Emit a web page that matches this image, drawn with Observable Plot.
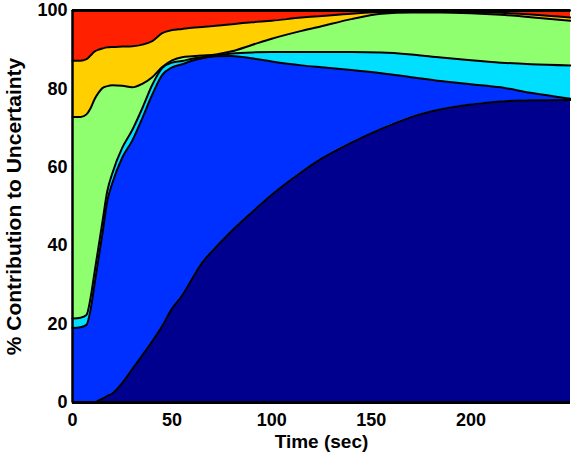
<!DOCTYPE html>
<html><head><meta charset="utf-8">
<script src="https://cdn.jsdelivr.net/npm/d3@7"></script>
<script src="https://cdn.jsdelivr.net/npm/@observablehq/plot@0.6"></script>
<style>
body{margin:0;background:#fff}
svg{display:block}
</style>
</head><body><div id="chart"></div>
<script>
// time samples (sec)
const time      = [0,   4,    7,    9,    11,   13,   15,   17.5, 20,   25,   30,   35,   40,   45,   50,   55,   60,   65,   72,   80,   90,   100,  115,  125,  140,  155,  170,  185,  200,  215,  230,  250];
// cumulative upper boundary of each layer (% contribution)
const navyTop   = [0,   0,    0,    0,    0,    0.5,  1,    1.7,  2.3,  5,    8.5,  12,   15.6, 19.5, 24,   27.3, 31.5, 35.6, 39.6, 43.8, 48.5, 53,   58.8, 62.2, 66.3, 69.8, 72.8, 74.8, 76,   76.8, 77.1, 77.2];
const blueTop   = [19.0,19.2, 19.8, 23.5, 30,   36.5, 43,   51.5, 56,   62.5, 66.8, 72.5, 78.5, 83.5, 85.5, 86.3, 87.2, 87.8, 88.3, 88.4, 87.8, 87,   86,   85.5, 84.8, 84,   83,   82,   81.2, 80.4, 79,   77.5];
const cyanTop   = [21.4,21.6, 22.3, 26.5, 33,   39.5, 46,   54,   58.5, 65,   69.5, 75,   81,   85.3, 86.7, 87.1, 87.7, 88.1, 88.5, 89,   89.3, 89.4, 89.4, 89.4, 89.4, 89.3, 88.8, 88,   87.3, 86.7, 86.3, 86];
const greenTop  = [72.8,72.8, 73.5, 75,   77.3, 79,   80.2, 80.7, 80.9, 80.8, 80.4, 81.3, 83,   85.6, 87.3, 88.1, 88.3, 88.5, 88.8, 89.6, 91.2, 92.8, 94.8, 96,   97.8, 99.2, 99.5, 99.5, 99.3, 98.9, 98.3, 97.4];
const yellowTop = [87.2,87.2, 87.6, 88.5, 89.5, 90,   90.3, 90.6, 90.7, 90.8, 90.9, 91.3, 92.2, 94.2, 95,   95.3, 95.6, 95.8, 96.1, 96.5, 97,   97.4, 98.2, 98.6, 99.2, 99.6, 99.7, 99.7, 99.6, 99.4, 99,   98.2];
const redTop    = [100, 100,  100,  100,  100,  100,  100,  100,  100,  100,  100,  100,  100,  100,  100,  100,  100,  100,  100,  100,  100,  100,  100,  100,  100,  100,  100,  100,  100,  100,  100,  100];

const layerNames  = ["L1","L2","L3","L4","L5","L6"];
const layerColors = ["#00008F","#0030FF","#00DFFF","#8FFF70","#FFCF00","#FF2000"];
const xTicks = [0,50,100,150,200];
const yTicks = [0,20,40,60,80,100];
const xLabel = "Time (sec)";
const yLabel = "% Contribution to Uncertainty";

const tops = [navyTop, blueTop, cyanTop, greenTop, yellowTop, redTop];
const rows = [];
layerNames.forEach((name, i) => {
  time.forEach((t, j) => {
    rows.push({layer: name, t, y1: i === 0 ? 0 : tops[i-1][j], y2: tops[i][j]});
  });
});

const chart = Plot.plot({
  width: 571,
  height: 459,
  marginLeft: 72,
  marginRight: 1,
  marginTop: 10,
  marginBottom: 57,
  style: {fontFamily: "'Liberation Sans', Arial, sans-serif", fontWeight: "bold", fontSize: "18px", color: "#000", background: "#fff"},
  x: {domain: [0, 250]},
  y: {domain: [0, 100]},
  color: {domain: layerNames, range: layerColors},
  marks: [
    Plot.areaY(rows, {x: "t", y1: "y1", y2: "y2", fill: "layer", curve: "monotone-x"}),
    Plot.lineY(rows, {x: "t", y: "y2", z: "layer", stroke: "#000", strokeWidth: 2, curve: "monotone-x"}),
    Plot.ruleY([100], {stroke: "#000", strokeWidth: 3}),
    Plot.ruleX([0], {stroke: "#000", strokeWidth: 2.5}),
    Plot.ruleY([0], {stroke: "#000", strokeWidth: 3}),
    Plot.axisX({ticks: xTicks, tickSize: 0, tickPadding: 11, label: null, fontSize: 18, fontWeight: "bold"}),
    Plot.axisY({ticks: yTicks, tickSize: 0, tickPadding: 5, label: null, fontSize: 18, fontWeight: "bold"}),
    Plot.text([xLabel], {frameAnchor: "bottom", textAnchor: "middle", lineAnchor: "bottom", dy: 45, fontSize: 19, fontWeight: "bold", fill: "#000"}),
    Plot.text([yLabel], {frameAnchor: "left", textAnchor: "middle", lineAnchor: "middle", dx: -58, rotate: -90, fontSize: 21, fontWeight: "bold", fill: "#000"})
  ]
});
document.getElementById("chart").appendChild(chart);
</script>
</body></html>
